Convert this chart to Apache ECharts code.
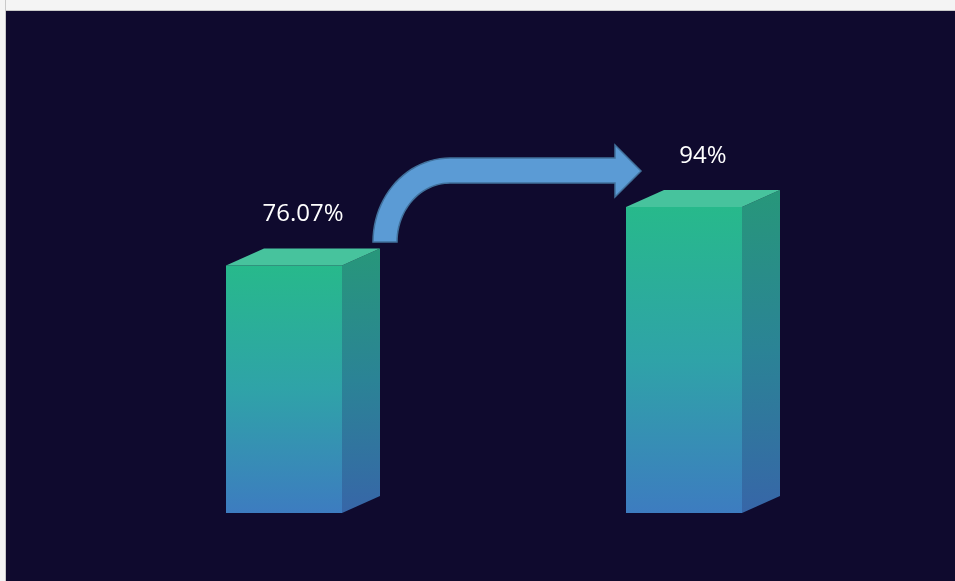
<!DOCTYPE html>
<html>
<head>
<meta charset="utf-8">
<script src="https://cdn.jsdelivr.net/npm/echarts@6/dist/echarts.min.js"></script>
<style>
html,body{margin:0;padding:0;background:#fff;}
#wrap{position:relative;width:955px;height:581px;overflow:hidden;}
#chart{position:absolute;left:0;top:0;width:955px;height:581px;background:#0f0a2e;}
#topStrip{position:absolute;left:0;top:0;width:955px;height:10px;background:#f4f4f4;border-bottom:1px solid #c9c9c9;pointer-events:none;}
#leftStrip{position:absolute;left:0;top:0;width:5px;height:581px;background:#f4f4f4;border-right:1px solid #c9c9c9;pointer-events:none;}
</style>
</head>
<body>
<div id="wrap">
  <div id="chart"></div>
  <div id="topStrip"></div>
  <div id="leftStrip"></div>
</div>
<script>
// ---- data ----
const categories = ['前', '后'];
const values = [76.07, 94];

const chart = echarts.init(document.getElementById('chart'), null, {renderer: 'canvas'});

function vGrad(stops) {
  return {type: 'linear', x: 0, y: 0, x2: 0, y2: 1, global: false,
    colorStops: stops.map(s => ({offset: s[0], color: s[1]}))};
}

function renderCube(params, api) {
  const v = api.value(1);
  const top = api.coord([api.value(0), v]);
  const base = api.coord([api.value(0), 0]);
  const w = 116, dx = 38, dy = 17;
  const x0 = top[0] - w / 2, x1 = top[0] + w / 2, yT = top[1], yB = base[1];
  const frontGrad = vGrad([[0, '#27b98b'], [0.5, '#2fa3a8'], [1, '#3d7cc0']]);
  const sideGrad = vGrad([[0, '#27977a'], [0.5, '#2b8396'], [1, '#3766a8']]);
  return {
    type: 'group',
    children: [
      {type: 'polygon', shape: {points: [[x0, yT], [x1, yT], [x1, yB], [x0, yB]]}, style: {fill: frontGrad}},
      {type: 'polygon', shape: {points: [[x1, yT], [x1 + dx, yT - dy], [x1 + dx, yB - dy], [x1, yB]]}, style: {fill: sideGrad}},
      {type: 'polygon', shape: {points: [[x0, yT], [x0 + dx, yT - dy], [x1 + dx, yT - dy], [x1, yT]]}, style: {fill: '#47c39d'}},
      {type: 'text', x: top[0] + dx / 2, y: yT - 51,
        style: {text: v + '%', fill: '#ffffff', font: '24px "Open Sans", "Noto Sans", sans-serif', align: 'center', verticalAlign: 'middle'}}
    ]
  };
}

// decorative curved arrow outline (pixel geometry)
function arrowPoints() {
  const pts = [];
  const cx = 450, cy = 242, N = 24;
  // outer quarter ellipse from left-bottom up to top
  for (let i = 0; i <= N; i++) {
    const a = Math.PI - (Math.PI / 2) * (i / N);
    pts.push([cx + 77 * Math.cos(a), cy - 84 * Math.sin(a)]);
  }
  pts.push([615, 158], [615, 145], [641, 171], [615, 197], [615, 183]);
  for (let i = 0; i <= N; i++) {
    const a = Math.PI / 2 + (Math.PI / 2) * (i / N);
    pts.push([cx + 53 * Math.cos(a), cy - 59 * Math.sin(a)]);
  }
  return pts;
}

const option = {
  backgroundColor: '#0f0a2e',
  animation: false,
  grid: {left: 84, right: 71, top: 187.5, bottom: 68},
  xAxis: {type: 'category', data: categories, show: false},
  yAxis: {type: 'value', min: 0, max: 100, show: false},
  series: [{
    type: 'custom',
    renderItem: renderCube,
    data: categories.map((c, i) => [i, values[i]])
  }],
  graphic: [{
    type: 'polygon',
    shape: {points: arrowPoints()},
    style: {fill: '#5b9bd5', stroke: '#41719c', lineWidth: 1.5}
  }]
};
chart.setOption(option);
</script>
</body>
</html>
